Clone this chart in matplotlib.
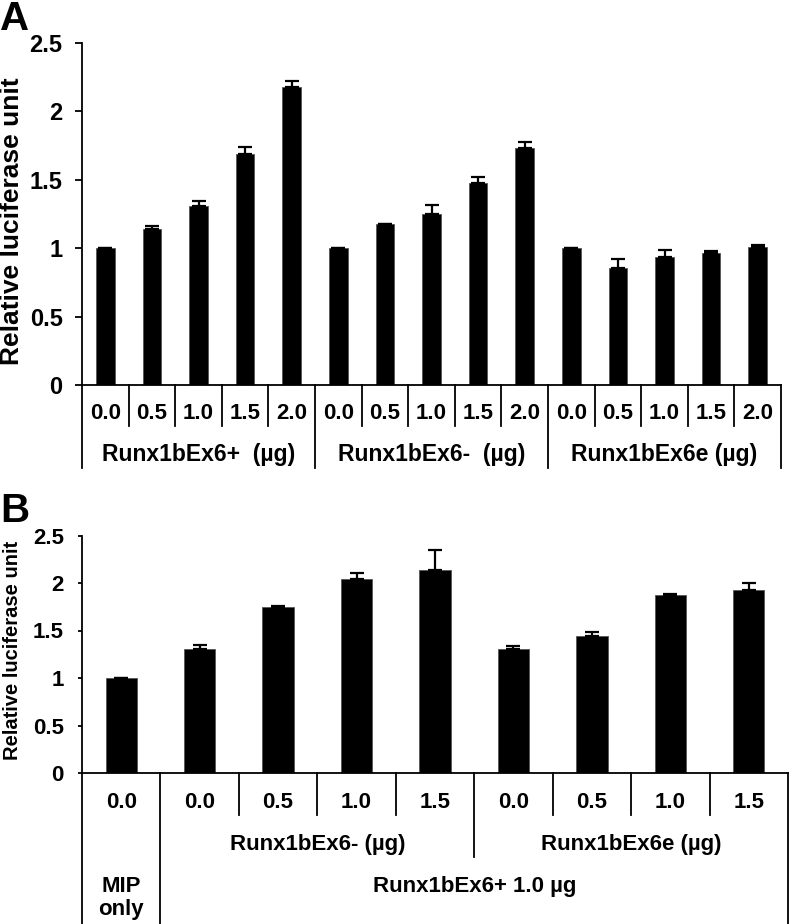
import matplotlib.pyplot as plt
from matplotlib.transforms import blended_transform_factory

plt.rcParams['font.family'] = ['Liberation Sans', 'DejaVu Sans']
plt.rcParams['font.weight'] = 'bold'

# panel A data
doses_a = ['0.0', '0.5', '1.0', '1.5', '2.0'] * 3
groups_a = ['Runx1bEx6+  (µg)', 'Runx1bEx6-  (µg)', 'Runx1bEx6e (µg)']
values_a = [1.00, 1.14, 1.31, 1.685, 2.18,
            1.00, 1.175, 1.253, 1.48, 1.729,
            1.00, 0.858, 0.936, 0.963, 1.007]
errors_a = [0.003, 0.02, 0.035, 0.054, 0.044,
            0.003, 0.004, 0.066, 0.037, 0.049,
            0.003, 0.064, 0.052, 0.02, 0.015]

# panel B data
doses_b = ['0.0', '0.0', '0.5', '1.0', '1.5', '0.0', '0.5', '1.0', '1.5']
groups_b = ['Runx1bEx6- (µg)', 'Runx1bEx6e (µg)']
values_b = [1.00, 1.305, 1.745, 2.039, 2.137, 1.305, 1.44, 1.87, 1.923]
errors_b = [0.005, 0.042, 0.01, 0.07, 0.213, 0.037, 0.047, 0.017, 0.074]

W, H = 791, 924
fig = plt.figure(figsize=(W / 100, H / 100), dpi=100)


def fy(y):
    return 1 - y / H


def setup_axes(ax, ytick_size):
    ax.spines['top'].set_visible(False)
    ax.spines['right'].set_visible(False)
    ax.spines['left'].set_linewidth(1.3)
    ax.spines['bottom'].set_linewidth(1.3)
    ax.set_ylim(0, 2.5)
    ax.set_yticks([0, 0.5, 1, 1.5, 2, 2.5])
    ax.set_yticklabels(['0', '0.5', '1', '1.5', '2', '2.5'])
    ax.tick_params(axis='y', length=5, width=1.3, pad=9, labelsize=ytick_size)
    ax.set_xticks([])


def draw_bars(ax, values, errors):
    x = range(len(values))
    ax.bar(x, values, width=0.4, color='black', edgecolor='#555555', linewidth=0.6)
    ax.errorbar(x, values, yerr=[[0] * len(values), errors], fmt='none',
                ecolor='black', elinewidth=1.6, capsize=5, capthick=1.6)


def vline(ax, x, y0, y1):
    tr = blended_transform_factory(ax.transData, fig.transFigure)
    ax.plot([x, x], [fy(y0), fy(y1)], color='black', lw=1.3,
            transform=tr, clip_on=False)


def label(ax, x, y, s, size=16):
    tr = blended_transform_factory(ax.transData, fig.transFigure)
    ax.text(x, fy(y), s, transform=tr, ha='center', va='baseline',
            fontsize=size, fontweight='bold')


# ---------- panel A ----------
axA = fig.add_axes([82 / W, fy(385), (781 - 82) / W, (385 - 43) / H])
setup_axes(axA, 17)
axA.set_xlim(-0.5, 14.5)
draw_bars(axA, values_a, errors_a)

for i in range(16):
    b = i - 0.5
    if i % 5 == 0:
        vline(axA, b, 385, 468)
    else:
        vline(axA, b, 385, 426)
for i, d in enumerate(doses_a):
    label(axA, i, 419, d)
for g, name in enumerate(groups_a):
    label(axA, g * 5 + 2, 461, name, 16.5)

fig.text(12.5 / W, fy(221), 'Relative luciferase unit', rotation=90,
         ha='center', va='center', fontsize=19, fontweight='bold')
fig.text(0 / W, fy(30), 'A', fontsize=29, fontweight='bold', ha='left', va='baseline')

# ---------- panel B ----------
axB = fig.add_axes([82 / W, fy(773), (788 - 82) / W, (773 - 535.5) / H])
setup_axes(axB, 16)
axB.tick_params(axis='y', length=3, pad=10)
axB.set_xlim(-0.5, 8.5)
draw_bars(axB, values_b, errors_b)

for i in range(10):
    b = i - 0.5
    if i in (0, 1, 9):
        vline(axB, b, 773, 924)
    elif i == 5:
        vline(axB, b, 773, 857)
    else:
        vline(axB, b, 773, 815)
for i, d in enumerate(doses_b):
    label(axB, i, 808, d)
label(axB, 2.5, 850, groups_b[0])
label(axB, 6.5, 850, groups_b[1])
label(axB, 4.5, 892, 'Runx1bEx6+ 1.0 µg')
label(axB, 0, 892, 'MIP')
label(axB, 0, 915, 'only')

fig.text(12.5 / W, fy(650), 'Relative luciferase unit', rotation=90,
         ha='center', va='center', fontsize=14.5, fontweight='bold')
fig.text(0 / W, fy(522), 'B', fontsize=29, fontweight='bold', ha='left', va='baseline')

fig.savefig('out.png', dpi=100)
